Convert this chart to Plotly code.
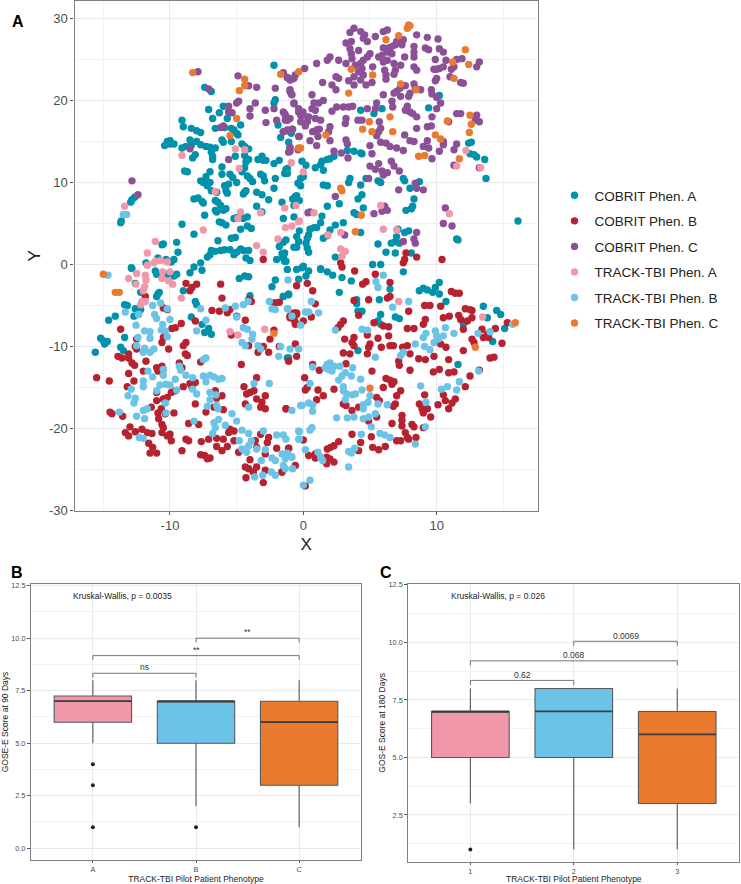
import plotly.graph_objects as go

# panel A, t-SNE points (x, y)
cobrit_a = [(-2.2,24.3),(-7.4,21.6),(-6.9,21.1),(-2.1,20.1),(-2.2,19.7),(-7.1,18.9),(-6.0,19.3),(-6.3,18.5),(-6.8,17.8),(-5.7,17.8),(-9.1,17.6),(-9.0,16.8),(-8.4,16.6),(-8.0,16.3),(-7.7,16.1),(-6.6,16.6),(-5.9,16.7),(-5.4,16.6),(-5.0,16.0),(-5.2,16.4),(-4.7,17.0),(-4.9,15.8),(-1.9,17.0),(-0.9,16.0),(-1.7,15.5),(-1.1,14.9),(-10.2,15.0),(-10.0,15.1),(-10.0,14.7),(-10.4,14.5),(-9.7,14.7),(-9.1,14.2),(-8.8,14.4),(-8.4,14.5),(-8.5,15.2),(-8.0,15.0),(-7.7,14.6),(-7.3,14.4),(-7.0,14.3),(-6.6,14.2),(-6.9,13.7),(-6.8,13.2),(-6.8,12.8),(-6.1,15.2),(-6.0,14.9),(-5.4,15.0),(-4.6,14.7),(-4.4,14.4),(-4.1,14.1),(-4.4,13.3),(-4.3,12.5),(-5.1,13.2),(-8.1,13.4),(-8.3,13.0),(-8.9,11.4),(-8.7,11.3),(-6.1,11.9),(-6.1,11.0),(-7.0,11.3),(-7.3,10.7),(-5.5,11.0),(-5.3,10.6),(-5.0,10.0),(-5.6,9.8),(-5.9,9.6),(-7.7,10.2),(-7.5,10.0),(-7.2,9.6),(-7.0,10.0),(-6.9,9.0),(-6.5,8.8),(-5.8,9.0),(-5.7,8.7),(-4.6,11.3),(-4.4,11.8),(-4.1,12.8),(-3.4,12.8),(-3.1,13.2),(-3.0,12.7),(-2.8,12.7),(-2.2,12.3),(-1.8,12.7),(-1.3,11.6),(-1.2,11.1),(-3.2,11.0),(-3.0,10.8),(-2.9,10.2),(-2.1,10.5),(-4.2,10.8),(-4.0,10.5),(-3.8,10.1),(-2.2,9.3),(-3.5,8.8),(-4.3,9.0),(-4.5,8.6),(-4.4,8.8),(-3.1,8.5),(-2.6,7.9),(-1.6,7.6),(-0.7,8.0),(-0.5,8.4),(-0.3,7.8),(-8.2,8.0),(-7.9,8.1),(-7.6,7.7),(-7.5,7.5),(-6.6,7.8),(-6.4,7.6),(-6.2,7.2),(-6.0,6.6),(-5.8,6.8),(-6.5,6.4),(-6.6,6.6),(-7.4,6.0),(-6.3,5.2),(-6.1,5.1),(-5.8,4.8),(-5.2,5.6),(-5.0,5.7),(-4.5,5.6),(-4.2,5.8),(-4.2,4.7),(-3.9,4.4),(-4.7,4.3),(-3.1,6.4),(-3.5,7.1),(-9.1,4.9),(-8.2,3.7),(-5.4,3.2),(-5.1,3.3),(-6.4,2.9),(-9.5,2.7),(-10.5,2.5),(-10.6,2.4),(-1.8,2.2),(-1.5,2.7),(-1.3,3.0),(-0.5,2.1),(-6.9,1.7),(-6.6,1.6),(-6.2,1.7),(-5.9,1.8),(-5.5,1.8),(-5.2,1.2),(-5.0,1.5),(-4.7,1.9),(-4.5,1.7),(-4.1,1.7),(-4.3,0.8),(-4.0,0.5),(-7.0,1.2),(-7.2,0.9),(-2.0,0.6),(-1.5,0.8),(-1.4,1.4),(-1.3,0.4),(-9.4,1.5),(-9.7,0.6),(-9.9,0.3),(-10.3,0.6),(-11.8,0.2),(-10.9,0.8),(-7.7,0.2),(-12.9,-0.4),
    (-12.85,7.9),(-12.65,8.2),(-12.95,7.6),(-13.7,5.1),(-13.65,5.3),
    (4.3,18.8),(5.9,19.0),(5.3,18.4),(9.4,19.1),(10.2,20.6),(12.4,14.8),(12.6,14.9),(12.5,13.5),(12.8,13.4),(13.0,13.1),(13.6,12.8),(13.7,10.5),(16.1,5.3),(3.3,13.9),(3.8,13.8),(4.3,13.6),(4.4,13.5),(2.3,13.2),(2.0,12.9),(1.8,12.8),(1.4,12.6),(1.3,12.2),(1.5,11.5),(0.9,11.8),(-0.1,12.6),(0.2,12.1),(-1.2,11.7),(-1.4,11.1),(-0.2,10.5),(0,10.7),(-0.4,9.9),(-0.2,9.6),(1.5,9.7),(1.8,9.6),(3.5,10.5),(3.4,10),(4.3,9.7),(4.7,10.5),(5.6,10.2),(5.8,10),(7.5,10.5),(7.6,10.2),(8.0,9.3),(8.7,10.1),(4.4,8.5),(4.1,8),(-0.6,8.3),(-0.8,8),(-0.5,7.9),(-0.7,7.2),(2.7,7.4),(1.8,7.1),(4.5,6.9),(3.8,6.3),(4.0,6.1),(8.3,8),(8.2,7.1),(8.1,6.8),(7.7,6.6),(-1.5,5.6),(-0.7,5.8),(1.4,5.9),(1.3,5.1),(3,5.1),(2.4,4.8),(2,4.2),(4.3,3.9),(7.9,4.1),(7.6,3.9),(7.1,4.3),(7,3.4),(6.9,2.8),(6.6,2.6),(7.2,2.6),(5.6,2.5),(11.5,3.1),(11.6,3),(6.2,1.5),(6.9,1.4),(8.1,1.4),(2.4,0.9),(5.2,0),(1.3,-0.5),(0,-0.2),(1,4.5),(0.8,4.5),(0.5,4.3),(0.4,3.6),(0.3,3.2),(0.2,2.6),(0.3,2),(0.4,1.5),(-0.7,2.1),(-0.3,4.1),(-0.5,3.4),(-0.35,2.8),(1.5,3.2),(1.8,3.5),(-1.6,1.3),(-1.5,0.8),
    (-12.85,-0.5),(-12.6,-2.3),(-12.2,-3.4),(-11,-1.2),(-11.1,-0.8),(-9.5,-1.2),(-9.7,-1.4),(-10.2,-1.2),(-10.9,-3.6),(-10.8,-3.4),(-11,-3.9),(-9,-3.2),(-13.4,-4.9),(-13.2,-5),(-14.1,-6.3),(-14.6,-6.8),(-12.7,-6.3),(-12.6,-5.4),(-12.2,-5.5),(-13.4,-8.9),(-15.2,-9),(-15,-9.3),(-14.7,-9.4),(-14.9,-9.7),(-15.6,-10.7),(-13.7,-10.1),(-13.5,-10.5),(-8.1,-4.5),(-8,-4.9),(-8.4,-6.4),(-7.6,-7.3),(-7.1,-7.8),(-7.4,-8.3),(-6.9,-8.5),(-8.5,-1),(-7.6,-0.7),(-8.2,-0.3),(-4.8,-1.7),(-4.4,-1.4),(-4.1,-1.5),(-4,-3.8),(-2.1,-1.9),(-2.35,-2.7),(-1.5,-3.9),(-1.1,-3.7),(-2.1,-4.7),(-1.1,-11.4),
    (1.3,-0.6),(1.8,-0.9),(2.2,-1.3),(2.9,-1.6),(3.6,-2),(2.7,-3.4),(5.8,0),(7.5,-0.9),(6.5,-3),(5.7,-4.3),(4,-4.3),(4,-4.8),(4.1,-5.7),(4.4,-5.7),(5.8,-6.1),(5.6,-6.9),(5.8,-7.3),(6.9,-6.4),(7.2,-6.6),(8.7,-3.2),(9,-2.9),(9.3,-3.1),(9.9,-2.8),(10.2,-2.2),(9.7,-3.4),(10.2,-3.6),(10.7,-4.5),(13.5,-5.1),(13.8,-6.5),(14.5,-5.6),(14.8,-6.1),(12,-7.3),(15.1,-7.8),(14.2,-9.4),(4.1,-10.5),(11.6,-12.2),(-1.2,-11.4),(-1.5,-3.9),(-1.1,-3.6),(-0.5,-0.6),(-0.1,-0.4),(0.4,-0.8),(0.2,-1.4),(-0.35,-1.8),(-1.2,-0.6),(-1.4,0.4)]

cobrit_b = [(-15.5,-13.8),(-14.55,-14.2),(-14.5,-18),(-14.35,-18.2),(-13.55,-18.5),(-13.9,-11.2),(-13.6,-11.4),(-13.1,-10.9),(-13.1,-11.4),(-12.85,-12),(-12.65,-12.3),(-13.1,-13.3),(-13.2,-14.9),(-12.7,-14.2),(-12,-13),(-13.7,-7.9),(-12.5,-9.1),(-12.6,-10),(-12.5,-10.3),(-11.8,-11.8),(-11.85,-3.9),(-10.5,-5.3),(-10.2,-5.5),(-11,-12.6),(-10.6,-12.4),(-10.9,-13),(-10.5,-12.8),(-10.6,-9.5),(-10.1,-10.3),(-9.85,-7.8),(-9.6,-7.7),(-9.15,-7.2),(-10.5,-8.9),(-9,-9.9),(-8.8,-9.5),(-8.85,-10.9),(-8.7,-11.1),(-9.3,-12),(-9.1,-12.6),(-7.7,-11.9),(-8.8,-2.3),(-8.35,-2.8),(-8,-2.4),(-8.5,-3.2),(-6.2,-2.4),(-6.1,-4.1),(-8.1,-6.9),(-6.85,-5.6),(-6.3,-5.7),(-5.7,-5.9),(-5.5,-5.5),(-5,-6.3),(-4.35,-6.8),(-4.1,-4.3),(-3.9,-4.5),(-2.2,-4.7),(-1.8,-4.6),(-2.2,-8),(-2.5,-9.1),(-5.4,-8.6),(-4.1,-9.9),(-3,-10),(-3.4,-10.7),(-2.6,-10.7),(-1.8,-10),(-0.6,-9.7),(-0.5,-11.2),(-1.1,-11.8),(-4.65,-12.2),(-1,-6.3),(-0.7,-6.7),(-0.6,-7.3),(-0.5,-5.9),(-3.5,-13.8),(-4.45,-14.9),(-3.7,-15.4),(-4,-15.6),(-4.25,-15.8),(-2.85,-16),(-3.5,-16.4),(-4.35,-17),(-3.1,-16.8),(-3.2,-17.4),(-2.85,-17.6),(-1.3,-17.6),(-6.1,-16),(-6.6,-15.4),(-6.5,-16.3),(-6,-17.7),(-6.7,-17.4),(-7.3,-18),(-8.1,-17),(-9,-14.9),(-8.5,-14.5),(-8.1,-14.4),(-8.35,-15),(-9.6,-15.4),(-9.9,-15.6),(-10.2,-16.2),(-10.5,-16.4),(-11,-16.6),(-11,-15.6),(-11.4,-17.4),(-10.65,-17.6),(-10.9,-18.1),(-10.35,-18.2),(-10.85,-18.8),(-10.6,-19.5),(-9.7,-18.1),(-8.6,-19.4),(-7.85,-19.5),(-10.5,-19.9),(-10.6,-20.5),(-10,-20.7),(-10.2,-20.9),(-9.9,-21.5),(-13.35,-20.5),(-13,-19.8),(-13.1,-20.9),(-12.6,-20.4),(-12.1,-20.1),(-11.7,-20.5),(-11.35,-20.6),(-11.6,-21.8),(-11.3,-22.3),(-11.5,-23),(-11,-23),(-9.1,-22.7),(-8.8,-21.3),(-8.6,-21.5),(-7.65,-21.6),(-7.1,-21.3),(-6.5,-21.2),(-6,-21.3),(-6.5,-22.2),(-5.7,-22.2),(-6.1,-22.7),(-7.7,-23.2),(-7.4,-23.3),(-7,-23.6),(-7.2,-23.7),(-5.5,-20.1),(-5.2,-20.3),(-5.6,-20.5),(-5.2,-21.5),(-4.85,-22.9),(-3.6,-21.5),(-2.7,-21.7),(-2.6,-21.1),(-3.2,-20.7),(-2,-22.4),(-1.1,-22.4),(-2.85,-23.1),(-3.5,-22.3),(-4,-23.8),(-4.35,-24.7),(-4.1,-24.9),(-3.5,-24.7),(-3.75,-25.3),(-4.3,-26),(-2.85,-25.1),(-3,-26.6),(-1.6,-25.3),(-0.6,-24.5),
    (3.85,-0.8),(4.45,-2.4),(4.7,-2.1),(5.4,-1.2),(6.5,-2.2),(0.3,-2.3),(0.7,-3.2),(0.9,-4.8),(3.8,-4.4),(4.9,-4.3),(6.5,-3.9),(6.3,-4.1),(-0.7,-5.9),(-0.5,-6.1),(-1,-6.5),(-0.6,-7.1),(0,-6.9),(0.6,-6.4),(4.15,-6.2),(3,-6.9),(2.8,-7.3),(2.6,-7.7),(5.3,-7.1),(6,-7.5),(6.4,-7.6),(7.9,-5.7),(9.1,-5),(9.5,-5),(10.3,-5.1),(11.1,-3.3),(11.4,-3.5),(11.7,-3.5),(12.15,-5.4),(12.5,-5.5),(12.65,-5.6),(10.5,-6.5),(10.95,-6.3),(11.65,-6.2),(11.8,-6.7),(12.3,-6.9),(12.65,-6.5),(13.4,-7.9),(13.8,-8.5),(14.4,-7.8),(15.3,-7.1),(9.15,-6.7),(9,-7.3),(7.8,-7.8),(8.3,-7.8),(12,-7.9),(12.65,-9.1),(12.8,-9.5),(13.5,-8.9),(13.9,-8.9),(14.9,-9.6),(12,-10.5),(14,-11.4),(14.3,-11.3),(3.1,-9.1),(3.65,-9.5),(3.8,-8.9),(3.8,-9.9),(4.8,-8.6),(5.6,-9),(6.4,-8.7),(5,-9.7),(4.9,-10.1),(5.85,-10.1),(6.5,-9.9),(6.75,-9.9),(7.45,-10.1),(7.8,-9.9),(3,-10.8),(3.5,-10.9),(4.8,-10.9),(7.15,-11.8),(7.2,-12.3),(8,-10.9),(8.65,-11.5),(9.15,-11.6),(9.8,-11.2),(10.3,-9.7),(10.7,-10.1),(10.9,-11.6),(8,-12.9),(9.75,-13.1),(10.2,-12.8),(10.9,-13.2),(11.3,-13.1),(12.5,-13.6),(13.2,-12.9),(12.15,-14.9),(3.2,-12.1),(5.15,-13),(1.2,-12.9),(0.7,-12.2),(0.1,-13.8),(0.3,-15),(0.15,-15.3),(1.1,-15.3),(2.3,-15.2),(1.5,-16),(1,-16.5),(-1.3,-17.6),(6,-15),(6.2,-13.9),(6.5,-14.1),(6.65,-14.6),(6.8,-14.3),(7.3,-15.4),(7,-16),(6.9,-17),(6.75,-17.3),(5.5,-16.2),(5.7,-16.6),(4.15,-17.4),(3.65,-17.8),(3.2,-17.2),(3,-17),(4.9,-19.1),(6.65,-19.4),(7.4,-18.4),(7.4,-19),(7.4,-19.7),(8.15,-19.5),(8.3,-19.8),(7.65,-20.5),(7.8,-21.1),(7,-21.5),(7.3,-21.5),(8.45,-21.1),(7.9,-21.3),(3.65,-20.7),(5.1,-21),(4.3,-21.7),(2.65,-21.6),(2.3,-22.1),(2.05,-22.3),(1.8,-22.5),(0,-21.4),(-1.1,-22.4),(0.4,-23.3),(0.9,-23.6),(0.9,-23.1),(1.75,-23.5),(2,-23.7),(2.3,-24.1),(1.75,-24.3),(4.15,-22.7),(5.2,-22.3),(5.65,-22.6),(6.15,-22.2),(9,-19.9),(9.55,-18.6),(9,-18.1),(9.3,-17.6),(8.7,-17),(8.9,-17.6),(9.1,-15.9),(10.1,-17.1),(10.5,-15.9),(10.65,-16.6),(10.9,-17.6),(11.4,-16.4),(11.15,-16.9),(0.15,-27),(-1.6,-25.3),(5.5,-18.6),
    (-3,0.6),(2.8,0.2),(2.9,-0.3),(7.7,1.4),(7.6,0.6),(7.5,0.2),(8.5,0.9),(10.4,0.6),(-0.5,-2.6)]

cobrit_c = [(-12.85,10.2),(-12.4,8.5),(-7.9,23.5),(-7.1,21.4),(-4.9,23),(-4.1,21.8),(-3.5,21.6),(-2.1,21.5),(-1.5,23.4),(-1.2,22.8),(-0.85,22.6),(-0.6,23.1),(-1,21.1),(-0.85,20.7),(-5,19.7),(-4.85,19.9),(-5.6,19.3),(-5.6,18.6),(-5.35,18.5),(-3.6,19.7),(-4,19),(-4,18.1),(-2.85,18.8),(-2.2,19),(-2.8,17.3),(-2,17.6),(-1.5,18.6),(-1.35,18.2),(-1.2,17.6),(-1,17.8),(-1.5,16.2),(-1.2,16.3),(-0.8,16.5),(-0.7,19.6),(-0.35,18.6),(-0.35,15.6),(-1,14.3),(-1.1,13.7),(-0.4,14),(-6,16.9),(-6.2,16.7),(-8.5,14.1),(-5.6,12.8),
    (3.5,28.3),(3.8,28.8),(4.3,28.4),(4.6,28),(4.5,27.6),(4.8,27.2),(3.2,27),(3.6,27.2),(5.4,27.8),(6,28.4),(6.3,28.6),(7.5,27.4),(7.4,26.8),(7,27.2),(6.9,26.8),(6.65,26.6),(6.4,26.4),(6,26.4),(6.3,25.9),(5.9,25.5),(5.65,25.3),(6.65,25.7),(8.3,26.6),(8.3,25.9),(8.5,28),(9.3,27.7),(10.1,27.5),(9.15,26.4),(9.4,26.2),(10.2,26.3),(10.5,25.9),(8.3,25.3),(7.6,25.3),(9.9,25),(10.7,24.9),(11.5,25),(11.9,25.1),(13.2,24.7),(13,24.1),(11.1,23.8),(11.3,24.1),(10.5,24.1),(10.2,23.9),(10,23.8),(9.8,23.8),(11,22.9),(10,22.7),(9.9,22.4),(11.8,22.2),(12,22.1),
    (3.5,26.3),(4.15,26.1),(3.6,25.7),(3.65,25.1),(5,25.7),(4.8,25.3),(4.5,24.9),(4.3,24.5),(4.4,23.9),(3.9,24.3),(4.15,23.5),(4.5,23.1),(3.8,22.9),(3.4,22.4),(5.2,24.1),(4.3,22.5),(5.15,22.2),(4.7,21.9),(3.8,21.9),(6,24.7),(6.3,24.9),(6.1,23.7),(6.2,23.1),(6.2,22.6),(6.8,24.5),(6.9,23.7),(7.3,24.3),(6.8,23.2),(8.3,24.1),(8.5,23.7),(3.2,24.5),(2.65,24.9),(2,25.3),(1.8,24.9),(1,24.5),(0.1,23.9),(2.65,22.7),(2.45,22.9),(1.45,22.2),(2.15,21.9),(2.45,21.3),(-1,21.3),(-0.9,20.8),(-0.7,22.7),(-1,22.5),(-1.2,22.8),(0.65,20.7),(7,21.1),(6.8,20.9),(7.25,21.5),(7.65,21.8),(8.3,22),(7.3,20.5),(7.9,20.5),(8,20.9),(8.4,21.5),(8.8,21.3),(9.6,21.3),(9.65,20.8),(10,20.4),(6,20.7),(6.65,19.9),(6.7,19.2),(5.5,19.7),(5.4,19),(4.8,19),(1.5,20),(1.15,19.7),(0.8,19.7),(0.65,19),(0.9,18.8),(-0.7,19.7),(-0.35,19),(-0.03,18.6),(-0.2,18.2),(2.5,19.2),(2.15,18.7),(3,19.2),(3.4,19.2),(3.7,19.3),(7.8,19.3),(7.65,18.8),(8,18.6),(8.2,18.4),(8.5,18),(10.3,19.7),(10,19),(9.65,18),(11.5,18.4),(11.8,18.4),(13,18.2),(12.9,17.6),(13.2,17.4),(10.9,17.4),(-1.4,18.4),(-1.2,17.8),(-1.35,17.6),(0,18.2),(0.3,17.4),(0.4,18),(0.9,17.8),(1.3,17.6),(-0.2,17.4),(0.15,16.9),(3.2,17.8),(3.15,17.2),(4.1,17.6),(4.4,17.6),(5.7,17.4),(5.8,16.6),(5.65,16.2),(5.5,15.7),(2,16.8),(1.9,16.2),(1.2,16.5),(1,16.4),(0.7,16.2),(1.1,15.6),(-0.85,16.5),(-1.2,16.4),(-1.5,16.2),(-0.3,15.6),(0.5,15.1),(2,15.1),(1,14.5),(7.6,15.8),(8.5,16.6),(9.3,16.8),(9.6,16.9),(8,15.1),(8.3,15),(9.3,15.1),(9,14.4),(9.4,14.2),(10.5,15),(10.5,14.6),(10.2,13.8),(11.3,14),(11.5,14.7),(5.8,14.9),(6.2,14.8),(6.5,14.4),(7,14.2),(7.5,13.9),(5,14.5),(5.15,13.5),(3.2,15.2),(3.3,14.7),(3.35,13),(2.85,13.6),(2.3,13.8),(-1,14.2),(-1,13.8),(9.65,12.9),(11.3,12.1),(13.2,11.8),(5,12),(5.4,11.6),(5.65,12.3),(5.9,11.4),(6.3,11.2),(6,10.9),(6.6,12.6),(6.8,12),(7.2,11.4),(4.9,10.5),(7.15,9.1),(8.4,9.9),(9,9.1),(8.5,9.3),(2.4,8.3),(5.3,6.2),(5.9,6.5),(6.3,6.6),(6.1,7.1),(10.65,6.9),(10.5,5),(11.15,4.7),(0.35,6.3),(0.5,6.4),(8.5,3.9),(8.3,3.1),(8.4,2.6),(7.5,2.8),(3.1,3.6)]

track_a = [(-13.4,7.1),(-9.1,13.3),(-5.1,14.1),(-4.4,14),(-4.8,11.7),(-6.6,8.9),(-4.7,6.4),(-4.9,5.6),(-3.2,6.3),(-7.5,4.2),(-1.4,6.9),(-0.55,7.2),(-0.35,5.2),(-0.9,12.4),(-1.35,4.5),(-0.85,4.7),(-1.9,3.1),(-3.5,2.3),(-3,1.5),(-11.1,2.8),(-11.7,1.4),(-11.1,0.4),(-10.7,0.5),(-10.2,0.3),(-11.7,-0.1),(-11.2,0.2),(-13.1,-1.7),(-12.5,-1.1),(-12.55,-2.4),(-11.85,-1.3),(-11.8,-1.9),(-11.9,-2.7),(-12,-3.2),(-12.1,-4.5),(-12.2,-4.9),(-11.85,-4.5),(-12.35,-6.1),(-10.55,-0.9),(-10,-0.9),(-10.6,-1.7),(-10.1,-2),(-9.8,-2.4),(-9.15,-4.1),(-5.5,-8.2),(-4.9,-8.6),(-2.9,-7.9),(7.15,-4.5),(13.45,-6.4),(0,11.3),(0.8,6.3),(-0.3,5.3),(1.85,3.6),(2.8,3.9),(2.8,1.9),(3.15,1.6),(2.9,1),(6,4.3),(7,4.2),(5.8,7.2),(11.5,12),(13.3,11.8),(12.2,13.9),(10.95,6.2)]

track_b = [(-13.5,6.1),(-13.25,6.1),(-14.65,-1.3),(-13.35,-5.8),(-12.35,-6.1),(-12.55,-7.4),(-12.4,-8.9),(-12.5,-9.9),(-11.9,-8.1),(-11.5,-8.2),(-11.5,-9),(-11.9,-10.2),(-12,-10.7),(-11.5,-10.7),(-11.2,-10.3),(-11.3,-5),(-10.7,-4.7),(-10.2,-5.4),(-11.15,-6.1),(-11,-6.6),(-10.55,-7.3),(-10,-6.7),(-10.65,-8),(-10.35,-8.1),(-10.2,-8.8),(-11.65,-13),(-11.3,-13.7),(-10.5,-12.8),(-10.5,-13.5),(-12,-14.2),(-12,-14.9),(-12.9,-15.2),(-13.15,-16),(-12.6,-16.3),(-12.7,-16.9),(-13.8,-18),(-12,-17.8),(-11.7,-17.6),(-12.5,-18.5),(-11.9,-18.8),(-12.3,-21.1),(-12,-21.2),(-9.3,-12.4),(-9.2,-12.9),(-9.6,-14),(-8.8,-13.5),(-10.75,-14.7),(-10.3,-14.6),(-10,-14.7),(-9.5,-15.3),(-11,-15.4),(-8.3,-13.8),(-8.3,-15.2),(-8,-15.8),(-7.5,-11.6),(-7.3,-11.4),(-7.5,-13.6),(-7.3,-14.3),(-7,-13.5),(-6.7,-13.7),(-6.35,-14),(-6.1,-13.9),(-7,-15.6),(-6.55,-15.9),(-7,-16.5),(-7.2,-17.3),(-6.5,-17.2),(-6.4,-17.6),(-10.35,-16.9),(-10.3,-18.1),(-8.2,-19.1),(-6.7,-19.3),(-6.35,-18.9),(-6.6,-19.9),(-6.8,-20.6),(-5.85,-19.6),(-5.35,-18.2),(-5,-19.1),(-4.6,-20.2),(-4.1,-20.6),(-4.8,-21.5),(-3.9,-21.5),(-4.1,-22.1),(-4.6,-22.5),(-4.25,-22.9),(-3.5,-22.5),(-2.85,-22.6),(-3.15,-23.9),(-3,-20.3),(-2,-20.8),(-1.5,-20.8),(-1.3,-21.3),(-0.35,-20.3),(-0.35,-21.3),(-3.7,-14.5),(-2.55,-14.5),(-4.1,-17.4),(-0.85,-17.8),(-0.2,-17.2),(-2.35,-23.6),(-2.1,-23.9),(-1.6,-23.1),(-1.2,-23),(-0.85,-23.5),(-1.35,-23.7),(-1.5,-24.5),(-1.35,-24.9),(-0.8,-24.9),(-2.4,-25.3),(-2.1,-25.7),(-3.65,-25.9),(-3.05,-25.7),(-5.85,-5.3),(-5.1,-5.1),(-5,-6.4),(-4.5,-4.9),(-4.15,-4.5),(-4.5,-7.7),(-4.2,-7.9),(-3.8,-8.5),(-4.6,-9.5),(-4.35,-9.9),(-3.85,-9.1),(-3.4,-9.9),(-3.2,-10.3),(-2.55,-4.5),(-2.35,-5.4),(-2.1,-5.5),(-1.2,-5.4),(-0.85,-6.3),(-1.7,-10),(-1,-10.3),(-1.85,-11.2),(-0.35,-10.3),(-1.15,-1.9),(-7.7,-5.4),(-7.3,-6.8),(-8,-8.1),
    (0.6,-4.5),(1.15,-5.9),(0.15,-5.8),(0.4,-5.8),(-1.15,-5.4),(-0.2,-7.4),(5.45,-2.1),(5.6,-2.8),(6,-1.3),(6.7,-5.2),(7.9,-4.5),(2.4,-8),(4.4,-7.9),(4.8,-8),(0.7,-12.5),(5.4,-11.3),(7.3,-11.1),(7.5,-10.7),(8.4,-9.7),(9,-8.9),(9.2,-8.4),(9.1,-10),(9.5,-10.4),(9.9,-8.1),(10,-8.7),(9.8,-9.5),(10.15,-9.1),(10.5,-8.7),(10.65,-7.7),(11.3,-8.4),(13.1,-8.4),(14,-8.2),(15.7,-7.3),(13.15,-13),(11.7,-14.3),(10.8,-14.9),(11.5,-15.3),(10.35,-15.2),(8.8,-14.8),(9.2,-16.8),(9.15,-19.8),(8.4,-21.9),(1.8,-12.2),(2,-12),(2.3,-12.4),(1.9,-12.8),(2.15,-13),(1.65,-12.6),(2.75,-12.4),(3.7,-12.6),(3.15,-13.2),(2.9,-13.6),(2.65,-14.1),(3.6,-13.6),(4.3,-14),(4.4,-15.3),(3,-14.9),(3,-15.4),(3.25,-15.8),(3.65,-15.9),(3.9,-15.8),(3.15,-16.5),(5,-16),(4.85,-16.8),(4.5,-17.1),(4.5,-17.6),(5.6,-17),(6.3,-17.1),(0.5,-14.5),(-0.1,-17.2),(0.4,-16.9),(0.7,-17.1),(0.7,-17.9),(2.5,-18.7),(3.3,-18.7),(3.8,-18.6),(4.5,-18.8),(4.9,-18.6),(5.4,-18.2),(5.1,-19.8),(4.35,-20.7),(5.75,-20.6),(6.1,-20.8),(6.5,-21.1),(3.85,-22.4),(3.4,-22.8),(3.6,-23),(3.4,-24.7),(-0.3,-20.4),(0.65,-19.9),(0.5,-20.2),(-0.3,-21.3),(0.15,-22.6),(1.1,-22.9),(1.3,-23.5),(1.45,-23.9),(-0.9,-23.4),(0,-26.9),(0.5,-26.3)]

track_c = [(-8.3,23.4),(-4.4,22.6),(-4.4,21.8),(-4.8,21.2),(-5,17.8),(-5.5,15.7),(-1.7,23.2),(-0.35,23.5),(-0.35,14.2),(7.9,29.2),(8,29.1),(7.8,28.8),(7.15,27.9),(6.2,27.4),(12.15,26.2),(11.2,24.7),(12.4,24.4),(11.3,22.7),(3.6,23.8),(5.2,23.1),(7.3,22),(8.45,21.3),(3.4,20.9),(12.5,18.2),(6.5,18),(4.95,17.4),(10.8,17.5),(12.6,17.1),(4.45,16.5),(5.15,16.2),(6.7,16.2),(12.45,16.1),(1.7,15.8),(9.9,15.8),(10.3,15.3),(-0.2,14.2),(8.65,13.2),(9.1,13.3),(11.7,12.9),(2.8,9.3),(2.9,9),(4.35,6),(3.9,4),(-15,-1.2),(-14.1,-3.4),(-13.8,-3.4),(-2.2,-8.4),(5,-15.1),(12.9,-10.1),(15.9,-7.1)]

series_names = ["COBRIT Phen. A", "COBRIT Phen. B", "COBRIT Phen. C", "TRACK-TBI Phen. A", "TRACK-TBI Phen. B", "TRACK-TBI Phen. C"]
series_points = [cobrit_a, cobrit_b, cobrit_c, track_a, track_b, track_c]
series_colors = ["#0092ab", "#b72230", "#8b5096", "#f097a9", "#6bc4e8", "#ea7a30"]

# panels B and C, box stats
positions = [1, 2, 3]
box_colors = ["#f097a9", "#6bc4e8", "#ea7a30"]
b_labels = ["A", "B", "C"]
b_q1 = [6, 5, 3]
b_median = [7, 7, 6]
b_q3 = [7.25, 7, 7]
b_low = [5, 2, 1]
b_high = [8, 8, 8]
b_out_x = [1, 1, 1, 2]
b_out_y = [4, 3, 1, 1]
b_brackets = [(1, 2, 8.33, "ns", 8.62), (1, 3, 9.17, "**", 9.45), (2, 3, 10.0, "**", 10.3)]

c_labels = ["1", "2", "3"]
c_q1 = [5, 5, 3]
c_median = [7, 7, 6]
c_q3 = [7, 8, 7]
c_low = [3, 1, 1]
c_high = [8, 8, 8]
c_out_x = [1]
c_out_y = [1]
c_brackets = [(1, 2, 8.35, "0.62", 8.6), (1, 3, 9.2, "0.068", 9.45), (2, 3, 10.05, "0.0069", 10.3)]

GREY = "#4d4d4d"
BORDER = "#7f7f7f"
MAJOR = "#e9e9ee"
MINOR = "#f2f2f5"
FONT = "Liberation Sans"
W, H = 741, 884


def fx(px):
    return px / W


def fy(py):
    return 1 - py / H


fig = go.Figure()

for name, pts, col in zip(series_names, series_points, series_colors):
    xs, ys = zip(*pts)
    fig.add_trace(go.Scatter(x=xs, y=ys, mode="markers", name=name, legendgroup=name,
                             marker=dict(color=col, size=7.4), xaxis="x", yaxis="y"))


def add_boxes(xa, ya, q1, med, q3, low, high, out_x, out_y, brackets, pvalue, pvalue_x):
    for p, a, m, b, lo, hi, col in zip(positions, q1, med, q3, low, high, box_colors):
        fig.add_trace(go.Box(x=[p], q1=[a], median=[m], q3=[b], lowerfence=[lo], upperfence=[hi],
                             width=0.75, whiskerwidth=0, fillcolor=col, boxpoints=False,
                             line=dict(color="#55585c", width=1.1), showlegend=False, xaxis=xa, yaxis=ya))
        # ggplot draws the median thicker than the box
        fig.add_trace(go.Scatter(x=[p - 0.375, p + 0.375], y=[m, m], mode="lines", showlegend=False,
                                 line=dict(color="#3d3d3d", width=1.8), xaxis=xa, yaxis=ya))
    fig.add_trace(go.Scatter(x=out_x, y=out_y, mode="markers", showlegend=False,
                             marker=dict(color="#222222", size=4), xaxis=xa, yaxis=ya))
    for x0, x1, level, label, label_y in brackets:
        fig.add_trace(go.Scatter(x=[x0, x0, x1, x1], y=[level - 0.2, level, level, level - 0.2],
                                 mode="lines", showlegend=False, line=dict(color="#666666", width=0.9),
                                 xaxis=xa, yaxis=ya))
        fig.add_annotation(x=(x0 + x1) / 2, y=label_y, text=label, showarrow=False, xref=xa, yref=ya,
                           font=dict(family=FONT, size=8.5, color="#333333"))
    fig.add_annotation(x=pvalue_x, y=12, text=pvalue, showarrow=False, xref=xa, yref=ya,
                       font=dict(family=FONT, size=8.5, color="#222222"))


add_boxes("x2", "y2", b_q1, b_median, b_q3, b_low, b_high, b_out_x, b_out_y, b_brackets,
          "Kruskal-Wallis, p = 0.0035", 1.29)
add_boxes("x3", "y3", c_q1, c_median, c_q3, c_low, c_high, c_out_x, c_out_y, c_brackets,
          "Kruskal-Wallis, p = 0.026", 1.27)


def axis(domain, rng, anchor, tickvals, ticktext, minorvals, size, title, title_size, standoff, width=1.3, ticklen=3):
    return dict(domain=domain, range=rng, anchor=anchor, tickmode="array", tickvals=tickvals, ticktext=ticktext,
                automargin=False, showgrid=True, gridcolor=MAJOR, gridwidth=width, zeroline=False,
                minor=dict(tickvals=minorvals, showgrid=True, gridcolor=MINOR, gridwidth=width * 0.6, ticks=""),
                showline=True, linecolor=BORDER, linewidth=1.2, mirror=True,
                ticks="outside", ticklen=ticklen, tickcolor="#555555", tickwidth=1,
                tickfont=dict(family=FONT, size=size, color=GREY),
                title=dict(text=title, standoff=standoff, font=dict(family=FONT, size=title_size, color="#222222")))


a_yvals = [-30, -20, -10, 0, 10, 20, 30]
bc_yvals = [2.5, 5, 7.5, 10, 12.5]
bc_minor = [1.25, 3.75, 6.25, 8.75, 11.25]

fig.update_layout(
    width=W, height=H, margin=dict(l=0, r=0, t=0, b=0), paper_bgcolor="white", plot_bgcolor="white",
    showlegend=True,
    legend=dict(x=fx(554.5), y=fy(180), xanchor="left", yanchor="top", traceorder="grouped", tracegroupgap=5,
                font=dict(family=FONT, size=13.5, color="#222222"), bgcolor="rgba(0,0,0,0)"),
    xaxis=axis([fx(74.5), fx(538)], [-17.16, 17.6], "y", [-10, 0, 10], ["-10", "0", "10"], [-15, -5, 5, 15],
               13, "X", 17, 5),
    yaxis=axis([fy(510.5), fy(1)], [-30, 32.13], "x", a_yvals, [str(v) for v in a_yvals],
               [-25, -15, -5, 5, 15, 25], 13, "Y", 17, 4),
    xaxis2=axis([fx(31), fx(361)], [0.4, 3.6], "y2", positions, b_labels, [], 7.3,
                "TRACK-TBI Pilot Patient Phenotype", 8.5, 3, 1.2, 2),
    yaxis2=axis([fy(860), fy(584)], [-0.56, 12.58], "x2", [0] + bc_yvals, ["0.0", "2.5", "5.0", "7.5", "10.0", "12.5"],
                bc_minor, 7.3, "GOSE-E Score at 90 Days", 8.5, 1, 1.2),
    xaxis3=axis([fx(408.3), fx(739.3)], [0.4, 3.6], "y3", positions, c_labels, [], 7.3,
                "TRACK-TBI Pilot Patient Phenotype", 8.5, 3, 1.2, 2),
    yaxis3=axis([fy(861.7), fy(584)], [0.47, 12.54], "x3", bc_yvals, ["2.5", "5.0", "7.5", "10.0", "12.5"],
                bc_minor, 7.3, "GOS-E Score at 180 Days", 8.5, 1, 1.2),
)

for letter, px, py in [("A", 10, 11), ("B", 9, 572), ("C", 385.5, 572)]:
    fig.add_annotation(x=fx(px), y=fy(py), xref="paper", yref="paper", text="<b>%s</b>" % letter, showarrow=False,
                       font=dict(family=FONT, size=16, color="black"))

# the default 8px body margin would push the fixed-size figure off the window
fig.write_html("out.html", config={"displayModeBar": False}, post_script="document.body.style.margin = '0';")
